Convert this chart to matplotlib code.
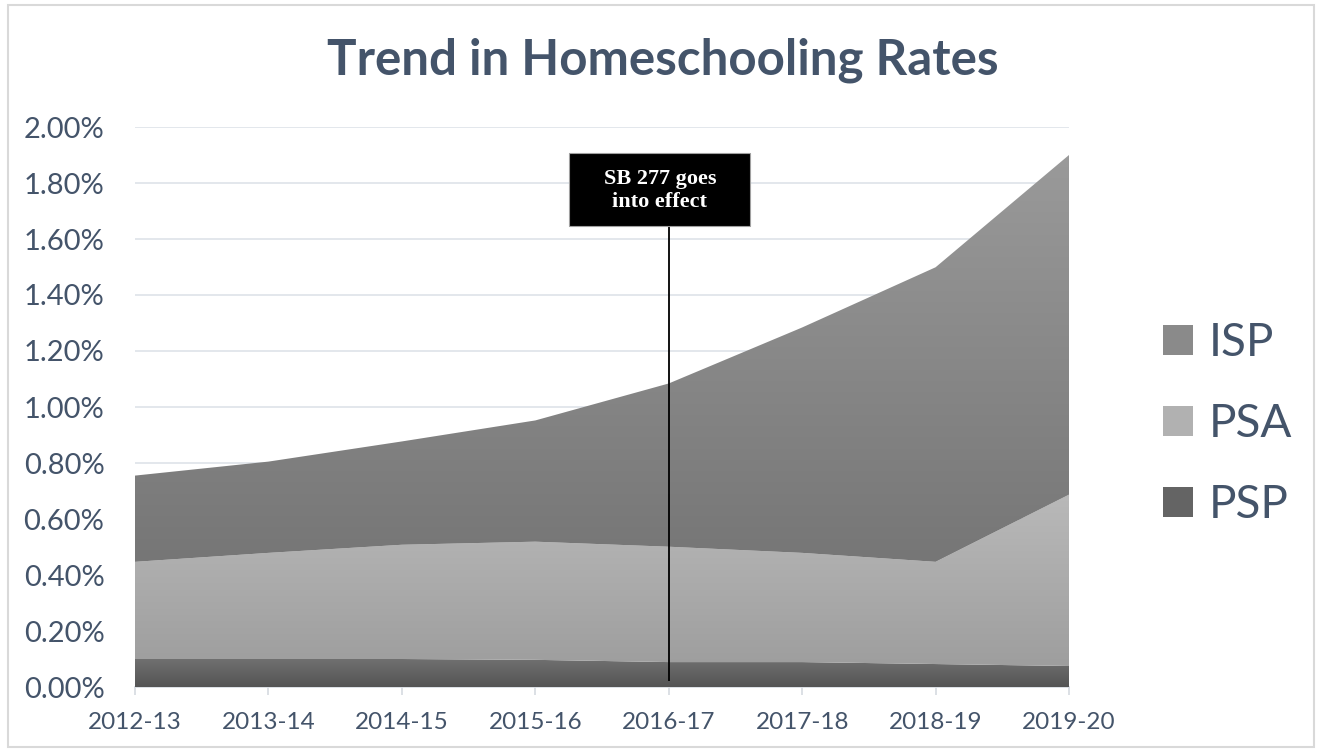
import numpy as np
import matplotlib
matplotlib.use("Agg")
import matplotlib.pyplot as plt
from matplotlib.colors import LinearSegmentedColormap
from matplotlib.patches import Rectangle, Patch

years = ["2012-13", "2013-14", "2014-15", "2015-16", "2016-17", "2017-18", "2018-19", "2019-20"]
# rates in percent of students
psp = [0.100, 0.100, 0.100, 0.097, 0.089, 0.089, 0.082, 0.075]
psa = [0.347, 0.379, 0.408, 0.422, 0.412, 0.390, 0.365, 0.612]
isp = [0.308, 0.326, 0.369, 0.433, 0.583, 0.805, 1.052, 1.213]

series = ["PSP", "PSA", "ISP"]
grad = {"PSP": ("#545454", "#707070"),
        "PSA": ("#9e9e9e", "#b9b9b9"),
        "ISP": ("#767676", "#9a9a9a")}
legend_col = {"ISP": "#8a8a8a", "PSA": "#b1b1b1", "PSP": "#646464"}

slate = "#44546a"
grid_col = "#e1e5ea"

plt.rcParams['font.family'] = ['Lato', 'DejaVu Sans']

fig = plt.figure(figsize=(13.17, 7.52), dpi=100)
ax = fig.add_axes([135 / 1317, 1 - 687 / 752, 934 / 1317, 560 / 752])

x = np.arange(len(years))
base = np.zeros(len(years))
for name, vals in zip(series, [psp, psa, isp]):
    top = base + np.array(vals)
    poly = ax.fill_between(x, base, top, facecolor="none", edgecolor="none", lw=0)
    cmap = LinearSegmentedColormap.from_list(name, grad[name])
    lo, hi = base.min(), top.max()
    im = ax.imshow(np.linspace(0, 1, 256).reshape(-1, 1), cmap=cmap, aspect="auto",
                   origin="lower", extent=[0, len(years) - 1, lo, hi],
                   interpolation="bilinear", zorder=1.5)
    im.set_clip_path(poly.get_paths()[0], transform=ax.transData)
    base = top

ax.set_xlim(0, len(years) - 1)
ax.set_ylim(0, 2.0)
ax.set_yticks(np.arange(0, 2.01, 0.2))
ax.set_yticklabels([f"{v:.2f}%" for v in np.arange(0, 2.01, 0.2)])
ax.set_xticks(x)
ax.set_xticklabels(years)

ax.set_axisbelow(True)
ax.yaxis.grid(True, color=grid_col, lw=1.3)
for s in ["top", "right", "left"]:
    ax.spines[s].set_visible(False)
ax.spines["bottom"].set_color("#d9dde3")
ax.spines["bottom"].set_linewidth(1.3)
ax.spines["bottom"].set_zorder(0.6)
ax.tick_params(axis="y", length=0, pad=22, labelsize=21, labelcolor=slate)
ax.tick_params(axis="x", length=6, width=1.3, color="#d9dde3", pad=12,
               labelsize=17.5, labelcolor=slate)

# SB 277 annotation
ax.vlines(4, 0.02, 1.646, color="black", lw=1.3, zorder=3)
ax.add_patch(Rectangle((3.253, 1.646), 1.357, 0.261, facecolor="black",
                       edgecolor="#a0a0a0", lw=0.8, zorder=4, clip_on=False))
ax.text(3.933, 1.773, "SB 277 goes\ninto effect", color="white", ha="center", va="center",
        fontsize=16, fontweight="bold", family=["Liberation Serif"], linespacing=1.2,
        zorder=5)

fig.text(663 / 1317, 1 - 60 / 752, "Trend in Homeschooling Rates", ha="center", va="center",
         fontsize=35.5, fontweight="bold", color=slate)

handles = [Patch(facecolor=legend_col[n], edgecolor="none") for n in ["ISP", "PSA", "PSP"]]
leg = fig.legend(handles, ["ISP", "PSA", "PSP"], loc="center left",
                 bbox_to_anchor=(1140 / 1317, 1 - 424 / 752), frameon=False,
                 fontsize=33, handlelength=0.65, handleheight=0.65, handletextpad=0.35,
                 labelspacing=0.85, borderpad=0)
for t in leg.get_texts():
    t.set_color(slate)

fig.patches.append(Rectangle((7.5 / 1317, 5 / 752), 1306 / 1317, 742 / 752,
                             transform=fig.transFigure, fill=False,
                             edgecolor="#d9d9d9", lw=1.5))

fig.savefig("out.png", dpi=100)
plt.close(fig)
